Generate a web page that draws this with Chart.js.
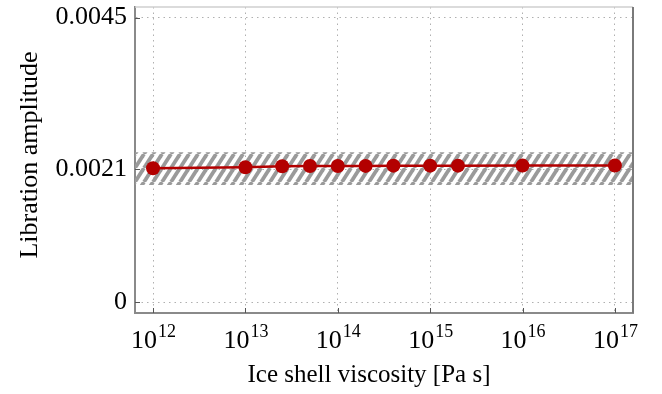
<!DOCTYPE html>
<html>
<head>
<meta charset="utf-8">
<script src="https://cdn.jsdelivr.net/npm/chart.js@4/dist/chart.umd.min.js"></script>
<style>
  html, body { margin: 0; padding: 0; background: #fff; }
  #wrap { width: 662px; height: 394px; position: relative; }
</style>
</head>
<body>
<div id="wrap"><canvas id="librationChart"></canvas></div>
<script>
// viscosidad de la capa de hielo [Pa s] y amplitud de libración
const viscosity = [1e12, 1e13, 2.5e13, 5e13, 1e14, 2e14, 4e14, 1e15, 2e15, 1e16, 1e17];
const amplitude = [0.002116, 0.002131, 0.002147, 0.002152, 0.002152, 0.002153, 0.002157, 0.002157, 0.002157, 0.002158, 0.00216];

// banda de incertidumbre (rayada)
const bandLow = 0.00185;
const bandHigh = 0.00237;

// ejes
const xMin = 6.38e11, xMax = 1.57e17;
const yMin = -0.000174, yMax = 0.004667;
const xTickExp = [12, 13, 14, 15, 16, 17];
const yTicks = [0, 0.0021, 0.0045];
const xTitle = 'Ice shell viscosity [Pa s]';
const yTitle = 'Libration amplitude';

const serif = "'Liberation Serif', 'Times New Roman', serif";

// patrón rayado para la banda
function hatch() {
    const w = 9, h = 14;
    const c = document.createElement('canvas');
    c.width = w; c.height = h;
    const g = c.getContext('2d');
    g.strokeStyle = '#9a9a9a';
    g.lineWidth = 3.8;
    for (let k = -1; k <= 1; k++) {
        g.beginPath();
        g.moveTo(k * w, h);
        g.lineTo(k * w + w, 0);
        g.stroke();
    }
    return g.createPattern(c, 'repeat');
}

// marco, marcas interiores, etiquetas 10^n y títulos de ejes
const frame = {
    id: 'frame',
    afterDraw(chart) {
        const { ctx, chartArea: a, scales } = chart;
        ctx.save();
        ctx.lineWidth = 1.5;
        ctx.strokeStyle = '#cfcfcf';
        ctx.beginPath(); ctx.moveTo(a.left, a.top); ctx.lineTo(a.right, a.top); ctx.stroke();
        ctx.lineWidth = 2;
        ctx.strokeStyle = '#7a7a7a';
        ctx.beginPath(); ctx.moveTo(a.right, a.top); ctx.lineTo(a.right, a.bottom); ctx.stroke();

        ctx.lineWidth = 1;
        ctx.strokeStyle = '#555';
        yTicks.forEach(v => {
            const y = Math.round(scales.y.getPixelForValue(v)) + 0.5;
            ctx.beginPath(); ctx.moveTo(a.left, y); ctx.lineTo(a.left + 5, y); ctx.stroke();
        });
        xTickExp.forEach(e => {
            const x = Math.round(scales.x.getPixelForValue(Math.pow(10, e))) + 0.5;
            ctx.beginPath(); ctx.moveTo(x, a.bottom); ctx.lineTo(x, a.bottom - 5); ctx.stroke();
        });

        ctx.fillStyle = '#000';
        ctx.textBaseline = 'alphabetic';
        ctx.textAlign = 'left';
        xTickExp.forEach(e => {
            const x = scales.x.getPixelForValue(Math.pow(10, e));
            ctx.font = '26px ' + serif;
            const wb = ctx.measureText('10').width;
            ctx.font = '18px ' + serif;
            const we = ctx.measureText(String(e)).width;
            const x0 = x - (wb + we) / 2;
            ctx.font = '26px ' + serif;
            ctx.fillText('10', x0, 348);
            ctx.font = '18px ' + serif;
            ctx.fillText(String(e), x0 + wb + 1, 337);
        });

        ctx.textAlign = 'center';
        ctx.font = '25px ' + serif;
        ctx.fillText(xTitle, 369, 382);
        ctx.translate(37, 155);
        ctx.rotate(-Math.PI / 2);
        ctx.font = '26px ' + serif;
        ctx.fillText(yTitle, 0, 0);
        ctx.restore();
    }
};

const ctx = document.getElementById('librationChart').getContext('2d');
const librationChart = new Chart(ctx, {
    type: 'line',
    data: {
        datasets: [
            {
                data: viscosity.map((v, i) => ({ x: v, y: amplitude[i] })),
                borderColor: '#b30000',
                backgroundColor: '#b30000',
                borderWidth: 2.5,
                pointRadius: 7,
                pointBorderWidth: 0,
                fill: false,
            },
            {
                data: [{ x: xMin, y: bandHigh }, { x: xMax, y: bandHigh }],
                borderWidth: 0,
                pointRadius: 0,
                backgroundColor: hatch(),
                fill: '+1',
            },
            {
                data: [{ x: xMin, y: bandLow }, { x: xMax, y: bandLow }],
                borderWidth: 0,
                pointRadius: 0,
                fill: false,
            },
        ],
    },
    options: {
        responsive: true,
        maintainAspectRatio: false,
        animation: false,
        layout: { padding: { top: 7, right: 29, left: 0, bottom: 0 } },
        plugins: {
            legend: { display: false },
            tooltip: { enabled: false },
        },
        scales: {
            x: {
                type: 'logarithmic',
                min: xMin,
                max: xMax,
                afterBuildTicks: s => { s.ticks = xTickExp.map(e => ({ value: Math.pow(10, e) })); },
                afterFit: s => { s.height = 81; s.paddingLeft = 0; s.paddingRight = 0; },
                ticks: { display: false },
                grid: { color: '#b0b0b0', lineWidth: 1, drawTicks: false },
                border: { color: '#8a8a8a', width: 2, dash: [1.5, 4] },
            },
            y: {
                min: yMin,
                max: yMax,
                afterBuildTicks: s => { s.ticks = yTicks.map(v => ({ value: v })); },
                afterFit: s => { s.width = 135; s.paddingTop = 0; s.paddingBottom = 0; },
                ticks: {
                    color: '#000',
                    font: { family: serif, size: 26 },
                    padding: 8,
                    callback: v => String(v),
                },
                grid: { color: '#b0b0b0', lineWidth: 1, drawTicks: false },
                border: { color: '#8a8a8a', width: 2, dash: [1.5, 4] },
            },
        },
    },
    plugins: [frame],
});
</script>
</body>
</html>
